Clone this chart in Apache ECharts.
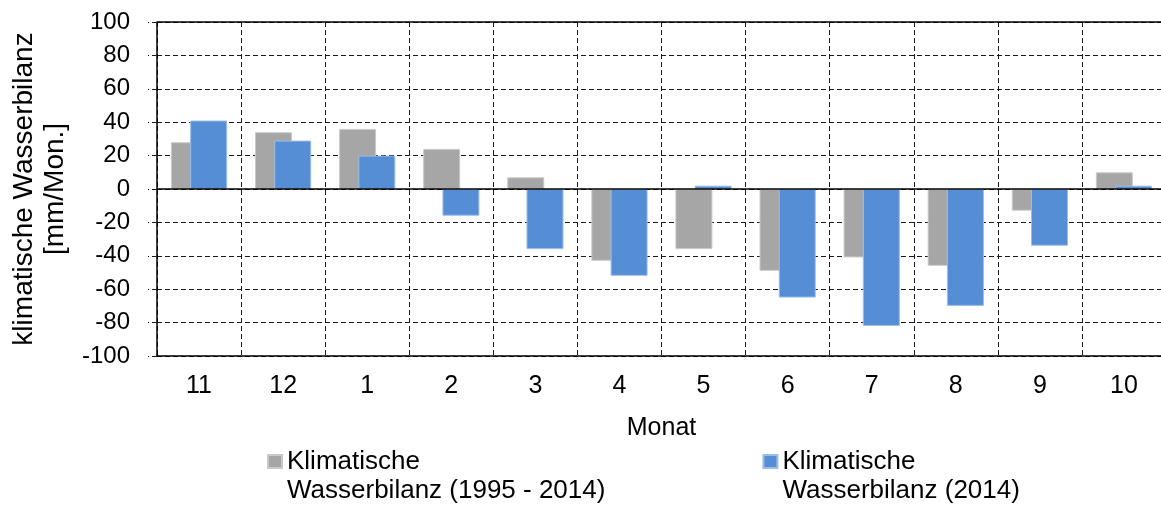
<!DOCTYPE html>
<html>
<head>
<meta charset="utf-8">
<script src="https://cdn.jsdelivr.net/npm/echarts@6/dist/echarts.min.js"></script>
<style>
  html, body { margin: 0; padding: 0; background: #fff; }
  #chart { width: 1161px; height: 505px; }
</style>
</head>
<body>
<div id="chart"></div>
<script>
// Months of the hydrological year (Nov - Oct)
const months = ['11', '12', '1', '2', '3', '4', '5', '6', '7', '8', '9', '10'];

// Climatic water balance in mm per month
const balanceLongTerm = [28, 34, 36, 24, 7, -43, -36, -49, -41, -46, -13, 10];   // 1995 - 2014
const balance2014     = [41, 29, 20, -16, -36, -52, 2, -65, -82, -70, -34, 2];   // 2014

const seriesNames = [
  'Klimatische\nWasserbilanz (1995 - 2014)',
  'Klimatische\nWasserbilanz (2014)'
];

const yTicks = { min: -100, max: 100, interval: 20 };

const FONT = "'Liberation Sans', Arial, sans-serif";
const dash = [5, 3];

const chart = echarts.init(document.getElementById('chart'), null, { renderer: 'canvas' });

chart.setOption({
  animation: false,
  backgroundColor: '#ffffff',
  textStyle: { fontFamily: FONT, color: '#000' },
  grid: { left: 157, top: 22, right: -5, bottom: 149, containLabel: false, outerBoundsMode: 'none' },
  legend: {
    left: 267,
    top: 418,
    padding: 0,
    itemWidth: 14,
    itemHeight: 13,
    itemGap: 157,
    icon: 'rect',
    selectedMode: false,
    // leading blank line keeps the first text line level with the swatch
    formatter: name => '\n' + name,
    textStyle: {
      fontFamily: FONT,
      fontSize: 26,
      lineHeight: 29,
      color: '#000'
    },
    data: seriesNames
  },
  xAxis: {
    type: 'category',
    data: months,
    boundaryGap: true,
    name: 'Monat',
    nameLocation: 'middle',
    nameGap: 60,
    nameTextStyle: { fontFamily: FONT, fontSize: 25, color: '#000' },
    axisLine: { onZero: false, lineStyle: { color: '#000', width: 1.5 } },
    axisTick: { show: false },
    axisLabel: { fontFamily: FONT, fontSize: 25, color: '#000', margin: 18 },
    splitLine: { show: true, lineStyle: { color: '#1a1a1a', type: dash, width: 1 } }
  },
  yAxis: {
    type: 'value',
    min: yTicks.min,
    max: yTicks.max,
    interval: yTicks.interval,
    name: 'klimatische Wasserbilanz\n[mm/Mon.]',
    nameLocation: 'middle',
    nameRotate: 90,
    nameGap: 86,
    nameTextStyle: { fontFamily: FONT, fontSize: 28, lineHeight: 31, color: '#000', align: 'center' },
    axisLine: { show: true, lineStyle: { color: '#000', width: 1.5 } },
    axisTick: { show: true, inside: false, length: 9, lineStyle: { color: '#1a1a1a', type: dash } },
    axisLabel: { fontFamily: FONT, fontSize: 24, color: '#000', margin: 27 },
    splitLine: { show: true, lineStyle: { color: '#1a1a1a', type: dash, width: 1 } }
  },
  series: [
    {
      name: seriesNames[0],
      type: 'bar',
      data: balanceLongTerm,
      barWidth: 37,
      barGap: '-48%',
      itemStyle: { color: '#A6A6A6', borderColor: '#C9C9C9', borderWidth: 1 },
      z: 2,
      markLine: {
        silent: true,
        symbol: 'none',
        label: { show: false },
        lineStyle: { color: '#000', type: 'solid', width: 1.5 },
        data: [{ yAxis: 0 }, { yAxis: 100 }],
        z: 5
      }
    },
    {
      name: seriesNames[1],
      type: 'bar',
      data: balance2014,
      barWidth: 37,
      barGap: '-48%',
      itemStyle: { color: '#558ED5', borderColor: '#9DBDE8', borderWidth: 1 },
      z: 3
    }
  ]
});
</script>
</body>
</html>
